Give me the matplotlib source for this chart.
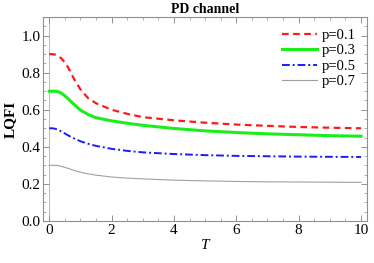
import matplotlib
matplotlib.use("Agg")
import matplotlib.pyplot as plt
from matplotlib.ticker import MultipleLocator

plt.rcParams['font.family'] = ['Liberation Serif', 'DejaVu Serif']

T = [0, 0.1, 0.2, 0.3, 0.4, 0.5, 0.6, 0.8, 1.0, 1.25, 1.5, 2, 2.5, 3, 4, 5, 6, 7, 8, 9, 10]
p01 = [0.90, 0.90, 0.897, 0.89, 0.875, 0.855, 0.83, 0.765, 0.71, 0.662, 0.635, 0.600, 0.578, 0.560, 0.543, 0.530, 0.520, 0.513, 0.507, 0.503, 0.50]
p03 = [0.70, 0.70, 0.70, 0.697, 0.688, 0.675, 0.66, 0.628, 0.598, 0.574, 0.557, 0.540, 0.527, 0.516, 0.499, 0.486, 0.477, 0.470, 0.465, 0.460, 0.457]
p05 = [0.50, 0.50, 0.497, 0.49, 0.482, 0.472, 0.462, 0.445, 0.430, 0.416, 0.405, 0.389, 0.378, 0.370, 0.361, 0.355, 0.351, 0.349, 0.347, 0.346, 0.345]
p07 = [0.30, 0.30, 0.30, 0.298, 0.294, 0.289, 0.284, 0.272, 0.263, 0.254, 0.247, 0.237, 0.231, 0.227, 0.220, 0.216, 0.213, 0.211, 0.210, 0.209, 0.208]
labels = ['p=0.1', 'p=0.3', 'p=0.5', 'p=0.7']

fig = plt.figure(figsize=(3.74, 2.63), dpi=100)
ax = fig.add_axes([0.115, 0.16, 0.867, 0.775])

ax.plot(T, p01, color='#ff1a1a', ls=(0, (3, 2)), lw=1.6, label=labels[0])
ax.plot(T, p03, color='#1aee1a', ls='-', lw=2.2, label=labels[1])
ax.plot(T, p05, color='#1a1aff', ls=(0, (4, 1.5, 1, 1.5)), lw=1.4, label=labels[2])
ax.plot(T, p07, color='#a0a0a0', ls='-', lw=0.8, label=labels[3])

ax.axvline(0, color='#c0c0c0', lw=0.8, zorder=0)

ax.set_xlim(-0.2, 10.2)
ax.set_ylim(0, 1.1)
ax.xaxis.set_major_locator(MultipleLocator(2))
ax.xaxis.set_minor_locator(MultipleLocator(0.5))
ax.yaxis.set_major_locator(MultipleLocator(0.2))
ax.yaxis.set_minor_locator(MultipleLocator(0.05))
ax.yaxis.set_major_formatter(plt.FuncFormatter(lambda v, p: f"{v:.1f}"))
ax.tick_params(axis='both', which='both', direction='in', top=True, right=True,
               color='#909090', labelsize=11, pad=2)
ax.tick_params(which='major', length=4, width=0.7)
ax.tick_params(which='minor', length=2, width=0.5)
for s in ax.spines.values():
    s.set_color('#909090')
    s.set_linewidth(0.8)

ax.set_title('PD channel', fontsize=10, fontweight='bold', pad=3)
ax.set_ylabel('LQFI', fontsize=11, fontweight='bold', labelpad=3)
ax.set_xlabel('T', fontsize=11, style='italic', labelpad=2)

ax.legend(loc='upper right', frameon=False, fontsize=10.5, handlelength=2.4,
          handletextpad=0.3, labelspacing=0.15, borderaxespad=0.4)

fig.savefig('out.png', dpi=100)
